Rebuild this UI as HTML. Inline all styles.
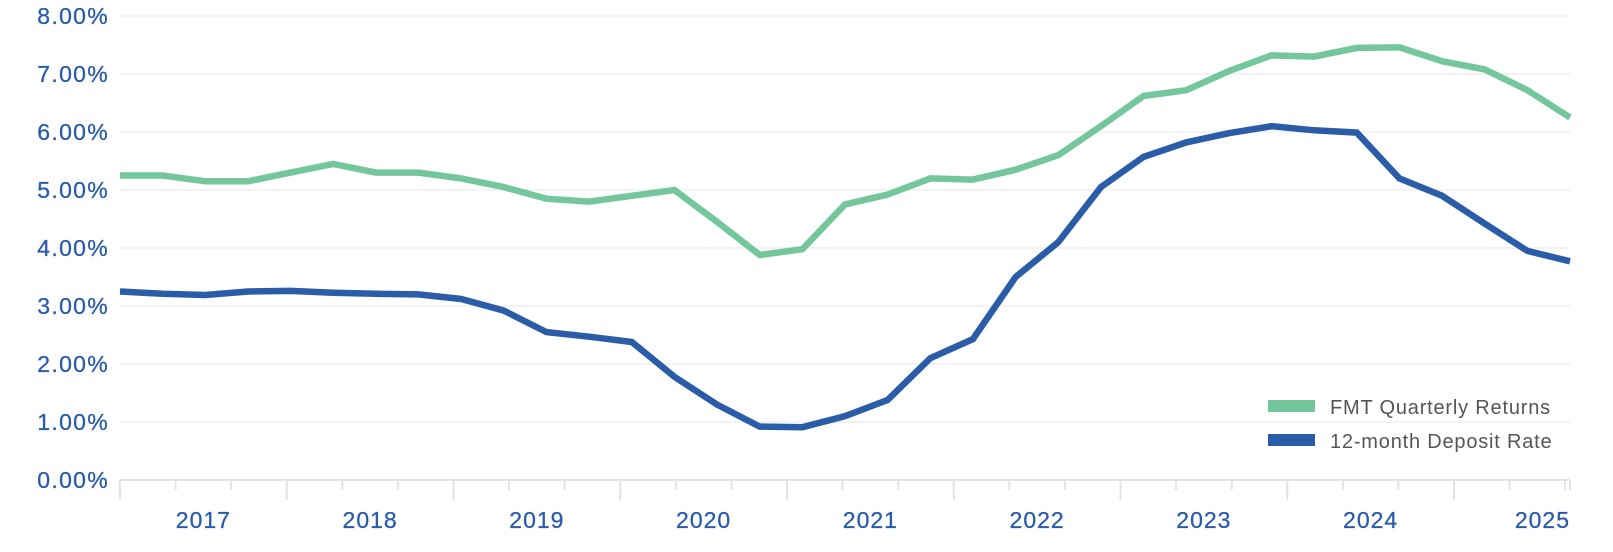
<!DOCTYPE html>
<html><head><meta charset="utf-8"><style>
html,body{margin:0;padding:0;background:#fff;}
svg{display:block;}
text{font-family:"Liberation Sans",sans-serif;}
</style></head><body>
<svg id="c" width="1613" height="552" xmlns="http://www.w3.org/2000/svg"></svg>
<script>
const s=document.getElementById('c');
const X0=120,X1=1570,Y0=480,PY=58;
const g=[5.25,5.25,5.15,5.15,5.3,5.45,5.3,5.3,5.2,5.05,4.85,4.8,4.9,5.0,4.45,3.88,3.98,4.75,4.92,5.2,5.18,5.35,5.6,6.1,6.62,6.72,7.05,7.32,7.3,7.45,7.46,7.22,7.08,6.72,6.25];
const b=[3.25,3.21,3.19,3.25,3.26,3.23,3.21,3.2,3.12,2.92,2.55,2.47,2.38,1.78,1.3,0.92,0.91,1.1,1.38,2.1,2.43,3.5,4.1,5.05,5.57,5.82,5.98,6.1,6.03,5.99,5.2,4.9,4.42,3.95,3.77];
let h='';
for(let i=0;i<=8;i++){const y=Y0-i*PY;
 if(i>0)h+=`<line x1="${X0}" x2="${X1}" y1="${y}" y2="${y}" stroke="#efefef" stroke-width="1.5"/>`;
 h+=`<text x="109" y="${y+8}" text-anchor="end" font-size="23" letter-spacing="1.3" fill="#2a5caa" stroke="#2a5caa" stroke-width="0.3">${i}.00%</text>`;}
h+=`<line x1="${X0}" x2="${X1}" y1="${Y0}" y2="${Y0}" stroke="#e3e3e3" stroke-width="2"/>`;
const tq=(1454-120)/24;
for(let k=0;k<=26;k++){const x=X0+k*tq; if(x>X1+1)break;
 const L=(k%3==0)?20:10; h+=`<line x1="${x}" x2="${x}" y1="${Y0}" y2="${Y0+L}" stroke="#e3e3e3" stroke-width="2"/>`;}
h+=`<line x1="${X1}" x2="${X1}" y1="${Y0}" y2="${Y0+10}" stroke="#e3e3e3" stroke-width="2"/>`;
for(let k=0;k<8;k++){const x=X0+tq*1.5+k*tq*3;h+=`<text x="${x}" y="528" text-anchor="middle" font-size="23" letter-spacing="1" fill="#2a5caa" stroke="#2a5caa" stroke-width="0.3">${2017+k}</text>`;}
h+=`<text x="1570" y="528" text-anchor="end" font-size="23" letter-spacing="1" fill="#2a5caa" stroke="#2a5caa" stroke-width="0.3">2025</text>`;
const pts=a=>a.map((v,i)=>`${(X0+i*(X1-X0)/(a.length-1)).toFixed(1)},${(Y0-v*PY).toFixed(1)}`).join(' ');
h+=`<polyline points="${pts(g)}" fill="none" stroke="#74c69d" stroke-width="6.5" stroke-linejoin="miter"/>`;
h+=`<polyline points="${pts(b)}" fill="none" stroke="#2b5ca8" stroke-width="6.5" stroke-linejoin="miter"/>`;
h+=`<rect x="1268" y="400" width="47" height="12" fill="#74c69d"/><text x="1330" y="414" font-size="20" letter-spacing="0.8" fill="#555">FMT Quarterly Returns</text>`;
h+=`<rect x="1268" y="434" width="47" height="12" fill="#2b5ca8"/><text x="1330" y="448" font-size="20" letter-spacing="0.8" fill="#555">12-month Deposit Rate</text>`;
s.innerHTML=h;
</script>
</body></html>
